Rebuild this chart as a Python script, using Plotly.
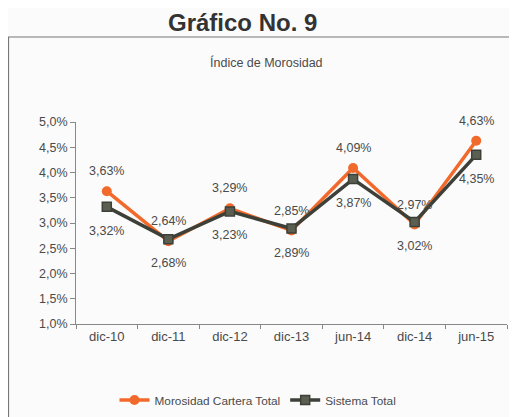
import plotly.graph_objects as go

categories = ["dic-10", "dic-11", "dic-12", "dic-13", "jun-14", "dic-14", "jun-15"]
morosidad = [3.63, 2.64, 3.29, 2.85, 4.09, 2.97, 4.63]
sistema = [3.32, 2.68, 3.23, 2.89, 3.87, 3.02, 4.35]
ytick_vals = [1.0, 1.5, 2.0, 2.5, 3.0, 3.5, 4.0, 4.5, 5.0]
ytick_text = ["1,0%", "1,5%", "2,0%", "2,5%", "3,0%", "3,5%", "4,0%", "4,5%", "5,0%"]

def fmt(v):
    return f"{v:.2f}".replace(".", ",") + "%"

FONT = "Liberation Sans, Arial, sans-serif"
ORANGE = "#f26a2b"
DARK = "#3c4039"
TXT = "#4a4a4a"

# page is offset by the 8px body margin; plot area in page pixels: x 76..507, y 122..324
PX0, PW, PY1, PH = 76, 431, 324, 202

def px(x):
    return (x - PX0) / PW

def py(y):
    return (PY1 - y) / PH

fig = go.Figure()
fig.add_trace(go.Scatter(
    x=categories, y=morosidad, mode="lines+markers", name="Morosidad Cartera Total",
    line=dict(color=ORANGE, width=3.5),
    marker=dict(symbol="circle", size=10, color=ORANGE),
))
fig.add_trace(go.Scatter(
    x=categories, y=sistema, mode="lines+markers", name="Sistema Total",
    line=dict(color=DARK, width=3.5),
    marker=dict(symbol="square", size=9, color="#5b5f52", line=dict(color=DARK, width=1.5)),
))

annotations = []
for c, v in zip(categories, morosidad):
    annotations.append(dict(x=c, y=v, text=fmt(v), showarrow=False, yshift=20,
                            font=dict(family=FONT, size=12.5, color=TXT)))
for c, v in zip(categories, sistema):
    annotations.append(dict(x=c, y=v, text=fmt(v), showarrow=False, yshift=-24,
                            font=dict(family=FONT, size=12.5, color=TXT)))

annotations.append(dict(text="<b>Gráfico No. 9</b>", xref="paper", yref="paper",
                        x=px(242), y=py(22), showarrow=False,
                        font=dict(family=FONT, size=24, color="#333"), xanchor="center", yanchor="middle"))
annotations.append(dict(text="Índice de Morosidad", xref="paper", yref="paper",
                        x=px(266), y=py(63), showarrow=False,
                        font=dict(family=FONT, size=12.5, color=TXT), xanchor="center", yanchor="middle"))

W, H = 509, 409
fig.update_layout(
    width=W, height=H,
    margin=dict(l=PX0 - 8, r=W - (PX0 - 8 + PW), t=122 - 8, b=H - (PY1 - 8), autoexpand=False),
    paper_bgcolor="#fbfbfb", plot_bgcolor="#fbfbfb",
    showlegend=True,
    legend=dict(orientation="h", x=px(258), xanchor="center",
                yref="container", y=(H - (400 - 8)) / H, yanchor="middle",
                font=dict(family=FONT, size=11.8, color=TXT), bgcolor="rgba(0,0,0,0)"),
    annotations=annotations,
    shapes=[dict(type="rect", xref="paper", yref="paper",
                 x0=px(8.5), x1=px(516),
                 y0=py(440), y1=py(37),
                 line=dict(color="#777", width=1.2), layer="below")],
)
fig.update_xaxes(
    type="category", range=[-0.5, 6.5], tickson="boundaries",
    showline=True, linecolor="#888", linewidth=1.2, ticks="outside", ticklen=4, tickcolor="#888",
    showgrid=False, zeroline=False,
    tickfont=dict(family=FONT, size=13, color=TXT),
)
fig.update_yaxes(
    range=[1.0, 5.0], tickvals=ytick_vals, ticktext=ytick_text,
    showline=True, linecolor="#888", linewidth=1, ticks="outside", ticklen=5, tickcolor="#888",
    showgrid=False, zeroline=False,
    tickfont=dict(family=FONT, size=12.5, color=TXT),
)

fig.write_html("out.html")
